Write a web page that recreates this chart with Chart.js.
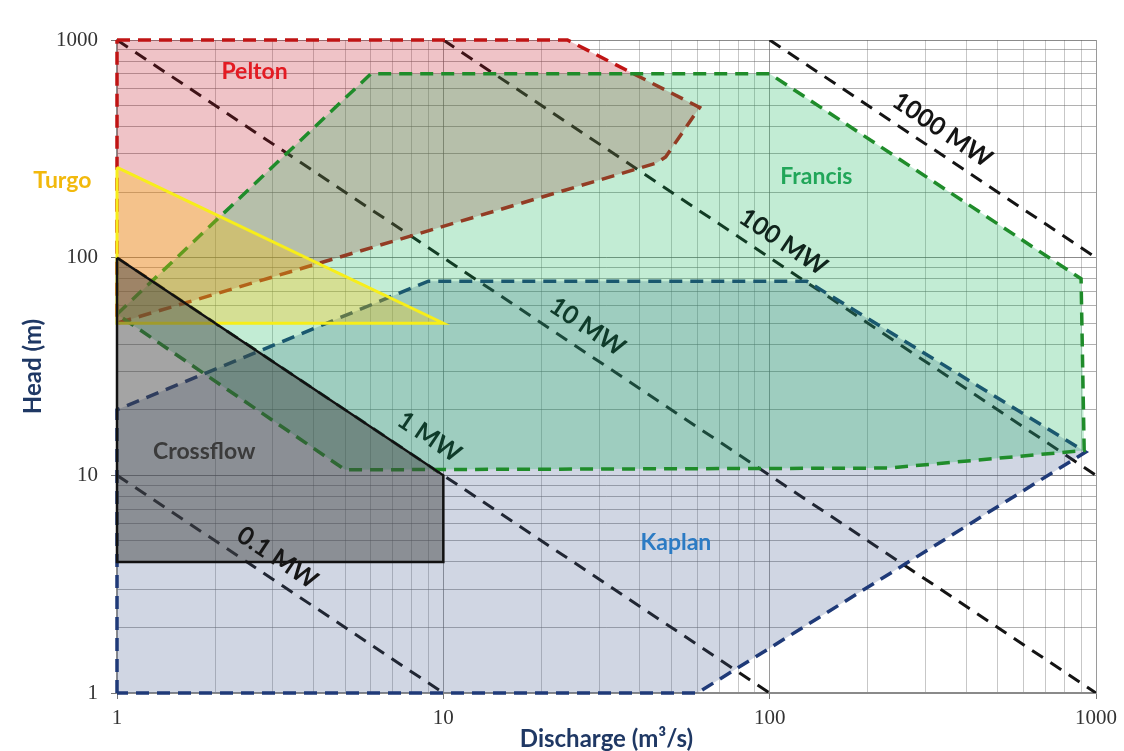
<!DOCTYPE html>
<html>
<head>
<meta charset="utf-8">
<title>Turbine application ranges</title>
<script src="https://cdn.jsdelivr.net/npm/chart.js@4.4.1/dist/chart.umd.min.js"></script>
<style>
  html, body { margin: 0; padding: 0; background: #ffffff; }
  #wrap { position: relative; width: 1124px; height: 751px; }
</style>
</head>
<body>
<div id="wrap"><canvas id="chart" width="1124" height="751"></canvas></div>
<script>
// Axis decades (both axes are log10, 1 .. 1000)
const dischargeTicks = [1, 10, 100, 1000];
const headTicks = [1, 10, 100, 1000];

// Turbine envelopes: discharge Q (m3/s) and head H (m) of each polygon corner
const peltonQ = [1, 24, 61, 48, 45, 1, 1];
const peltonH = [1000, 1000, 490, 290, 272, 50, 1000];

const francisQ = [1, 6, 100, 900, 920, 230, 5, 1];
const francisH = [55, 700, 700, 80, 13, 10.8, 10.6, 55];

const kaplanQ = [1, 1, 9, 130, 930, 60, 1];
const kaplanH = [1, 20, 78, 78, 12.8, 1, 1];

const turgoQ = [1, 10, 1, 1];
const turgoH = [260, 50, 50, 260];

const crossflowQ = [1, 10, 10, 1, 1];
const crossflowH = [100, 10, 4, 4, 100];

// Constant-power lines (P ~ Q * H / 100 MW)
const powerLabels = ['0.1 MW', '1 MW', '10 MW', '100 MW', '1000 MW'];
const powerStartQ = [1, 1, 1, 10, 100];
const powerStartH = [10, 100, 1000, 1000, 1000];
const powerEndQ = [10, 100, 1000, 1000, 1000];
const powerEndH = [1, 1, 1, 10, 100];

const turbineNames = ['Pelton', 'Turgo', 'Francis', 'Crossflow', 'Kaplan'];

const pts = (qs, hs) => qs.map((q, i) => ({ x: q, y: hs[i] }));

// Where each text sits (data coordinates) and how it looks
const turbineLabelStyle = {
  Pelton:    { q: 2.64, h: 713, color: '#e31b23' },
  Turgo:     { q: 0.68, h: 225, color: '#f2b90d' },
  Francis:   { q: 139,  h: 235, color: '#21a659' },
  Crossflow: { q: 1.85, h: 12.8, color: '#3b3b3b' },
  Kaplan:    { q: 51.6, h: 4.9, color: '#2b7bc4' }
};
const powerLabelStyle = [
  { q: 3.1, h: 4.18, color: '#161616' },
  { q: 9.06, h: 15.0, color: '#0f3b2a' },
  { q: 27.6, h: 48.1, color: '#0f3b2a' },
  { q: 110, h: 118, color: '#10241c' },
  { q: 338, h: 386, color: '#141414' }
];

function polygon(label, qs, hs, fill, stroke, dashed, width, order) {
  return {
    label,
    data: pts(qs, hs),
    backgroundColor: fill,
    borderColor: stroke,
    borderWidth: width,
    borderDash: dashed ? [13, 8] : [],
    fill: 'shape',
    tension: 0,
    pointRadius: 0,
    clip: 4,
    order
  };
}

const datasets = [];
powerLabels.forEach((name, i) => {
  datasets.push({
    label: name,
    data: [{ x: powerStartQ[i], y: powerStartH[i] }, { x: powerEndQ[i], y: powerEndH[i] }],
    borderColor: '#141414',
    borderWidth: 3,
    borderDash: [13, 9],
    fill: false,
    pointRadius: 0,
    order: 10
  });
});
datasets.push(polygon('Kaplan', kaplanQ, kaplanH, 'rgba(67,91,143,0.25)', '#1f3a78', true, 3.5, 5));
datasets.push(polygon('Pelton', peltonQ, peltonH, 'rgba(192,16,30,0.25)', '#c01414', true, 3.5, 4));
datasets.push(polygon('Francis', francisQ, francisH, 'rgba(11,179,83,0.25)', '#1f8c2a', true, 3.5, 3));
datasets.push(polygon('Turgo', turgoQ, turgoH, 'rgba(255,192,0,0.30)', '#f7ee1a', false, 3, 2));
datasets.push(polygon('Crossflow', crossflowQ, crossflowH, 'rgba(64,64,64,0.48)', '#111111', false, 2.5, 1));

function logTicks(values) {
  return (scale) => {
    const out = [];
    values.forEach((d, i) => {
      out.push({ value: d, major: true });
      if (i < values.length - 1) {
        for (let m = 2; m <= 9; m++) out.push({ value: d * m, major: false });
      }
    });
    scale.ticks = out;
  };
}

const textLayer = {
  id: 'textLayer',
  afterDatasetsDraw(chart) {
    const { ctx, scales: { x, y } } = chart;
    ctx.save();
    ctx.textAlign = 'center';
    ctx.textBaseline = 'middle';
    // turbine names
    ctx.font = 'bold 23px Lato, "Open Sans", sans-serif';
    turbineNames.forEach(n => {
      const s = turbineLabelStyle[n];
      ctx.fillStyle = s.color;
      ctx.fillText(n, x.getPixelForValue(s.q), y.getPixelForValue(s.h));
    });
    // power line labels, rotated along their line
    ctx.font = 'bold 25px Lato, "Open Sans", sans-serif';
    powerLabels.forEach((txt, i) => {
      const x0 = x.getPixelForValue(powerStartQ[i]), y0 = y.getPixelForValue(powerStartH[i]);
      const x1 = x.getPixelForValue(powerEndQ[i]), y1 = y.getPixelForValue(powerEndH[i]);
      const ang = Math.atan2(y1 - y0, x1 - x0);
      const s = powerLabelStyle[i];
      ctx.save();
      ctx.translate(x.getPixelForValue(s.q), y.getPixelForValue(s.h));
      ctx.rotate(ang);
      ctx.fillStyle = s.color;
      ctx.fillText(txt, 0, 0);
      ctx.restore();
    });
    ctx.restore();
  }
};

const tickFont = { family: '"Liberation Serif", "DejaVu Serif", serif', size: 21 };
const titleFont = { family: 'Lato, "Open Sans", sans-serif', size: 24, weight: 'bold' };

new Chart(document.getElementById('chart'), {
  type: 'line',
  data: { datasets },
  options: {
    responsive: false,
    animation: false,
    devicePixelRatio: 1,
    layout: { padding: { top: 40, right: 26, bottom: 0, left: 0 } },
    plugins: {
      legend: { display: false },
      tooltip: { enabled: false },
      filler: { propagate: false }
    },
    scales: {
      x: {
        type: 'logarithmic',
        min: 1,
        max: 1000,
        afterBuildTicks: logTicks(dischargeTicks),
        afterFit: (s) => { s.height = 58; },
        ticks: {
          autoSkip: false,
          maxRotation: 0,
          padding: 7,
          color: '#333333',
          font: tickFont,
          callback: (v) => dischargeTicks.includes(v) ? String(v) : ''
        },
        grid: {
          color: (c) => c.tick && dischargeTicks.includes(c.tick.value) ? 'rgba(100,100,100,0.65)' : 'rgba(130,130,130,0.45)',
          lineWidth: 1,
          tickLength: 6,
          tickColor: (c) => c.tick && dischargeTicks.includes(c.tick.value) ? '#777777' : 'rgba(0,0,0,0)'
        },
        border: { display: true, color: '#8a8a8a', width: 1.5 },
        title: {
          display: true,
          text: 'Discharge (m³/s)',
          color: '#1f3864',
          font: titleFont,
          padding: { top: 0, bottom: -3 }
        }
      },
      y: {
        type: 'logarithmic',
        min: 1,
        max: 1000,
        afterBuildTicks: logTicks(headTicks),
        afterFit: (s) => { s.width = 117; },
        ticks: {
          autoSkip: false,
          padding: 13,
          color: '#333333',
          font: tickFont,
          callback: (v) => headTicks.includes(v) ? String(v) : ''
        },
        grid: {
          color: (c) => c.tick && headTicks.includes(c.tick.value) ? 'rgba(90,90,90,0.7)' : 'rgba(100,100,100,0.5)',
          lineWidth: 1,
          tickLength: 6,
          tickColor: (c) => c.tick && headTicks.includes(c.tick.value) ? '#777777' : 'rgba(0,0,0,0)'
        },
        border: { display: true, color: '#8a8a8a', width: 1.5 },
        title: {
          display: true,
          text: 'Head (m)',
          color: '#1f3864',
          font: titleFont,
          padding: { top: 19, bottom: 0 }
        }
      }
    }
  },
  plugins: [textLayer]
});
</script>
</body>
</html>
